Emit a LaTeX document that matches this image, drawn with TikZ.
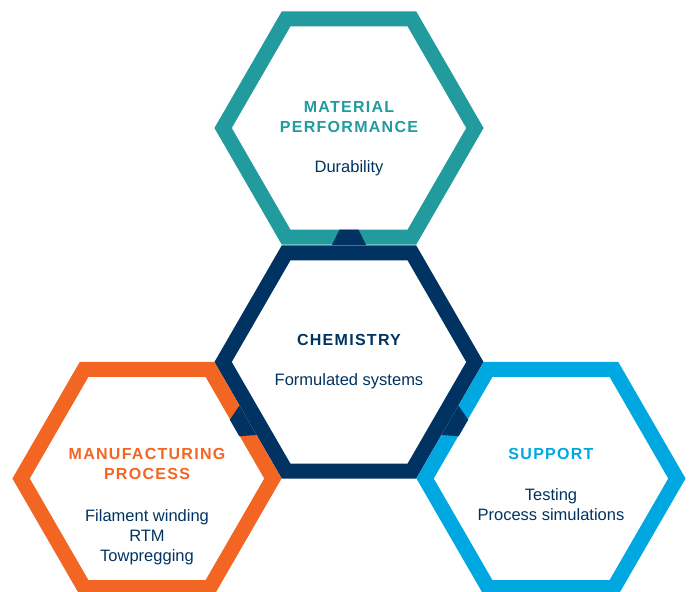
\documentclass[tikz,border=0pt]{standalone}
\usepackage{fontspec}
\setmainfont{Liberation Sans}
\newfontfamily\headfont{Liberation Sans}[LetterSpace=8]
\usetikzlibrary{shapes.geometric,positioning,calc}
\definecolor{navy}{HTML}{003361}
\definecolor{tealc}{HTML}{219B9D}
\definecolor{orangec}{HTML}{F26522}
\definecolor{skyc}{HTML}{00A8E1}
\begin{document}
\begin{tikzpicture}[x=1pt, y=-1pt, node distance=28pt,
  hexa/.style={regular polygon, regular polygon sides=6,
    minimum size=251.8pt, inner sep=0pt, outer sep=0pt, line width=15pt},
  head/.style={font=\headfont\bfseries\fontsize{16}{20}\selectfont, align=center, inner sep=0pt, anchor=north},
  body/.style={font=\fontsize{16.5}{20}\selectfont, text=navy, align=center, inner sep=0pt},
  tabshape/.pic={\fill[navy] (-17,0) -- (-9.5,-15.5) -- (9.5,-15.5) -- (17,0) -- cycle;}]
\useasboundingbox (0,0) rectangle (689,592);
% Define the nodes
\node (material) [hexa, draw=tealc] at (349,128) {};
\node (chemistry) [hexa, draw=navy] at (349,362) {};
\node (manufacturing) [hexa, draw=orangec] at (147,478.5) {};
\node (support) [hexa, draw=skyc] at (551,478.5) {};

\node (materialhead) [head, text=tealc] at ([yshift=27pt]material.center) {MATERIAL\\PERFORMANCE};
\node (materialbody) [body, below=of materialhead] {Durability};
\node (chemistryhead) [head, text=navy] at ([yshift=28pt]chemistry.center) {CHEMISTRY};
\node (chemistrybody) [body, below=of chemistryhead] {Formulated systems};
\node (manufacturinghead) [head, text=orangec] at ([yshift=30pt]manufacturing.center) {MANUFACTURING\\PROCESS};
\node (manufacturingbody) [body, below=29pt of manufacturinghead] {Filament winding\\RTM\\Towpregging};
\node (supporthead) [head, text=skyc] at ([yshift=30pt]support.center) {SUPPORT};
\node (supportbody) [body, below=of supporthead] {Testing\\Process simulations};

% Connect the nodes
\pic at ($(chemistry)!0.5!(material)$) {tabshape};
\pic[rotate=120] at ($(chemistry)!0.5!(manufacturing)$) {tabshape};
\pic[rotate=-120] at ($(chemistry)!0.5!(support)$) {tabshape};
\end{tikzpicture}
\end{document}
